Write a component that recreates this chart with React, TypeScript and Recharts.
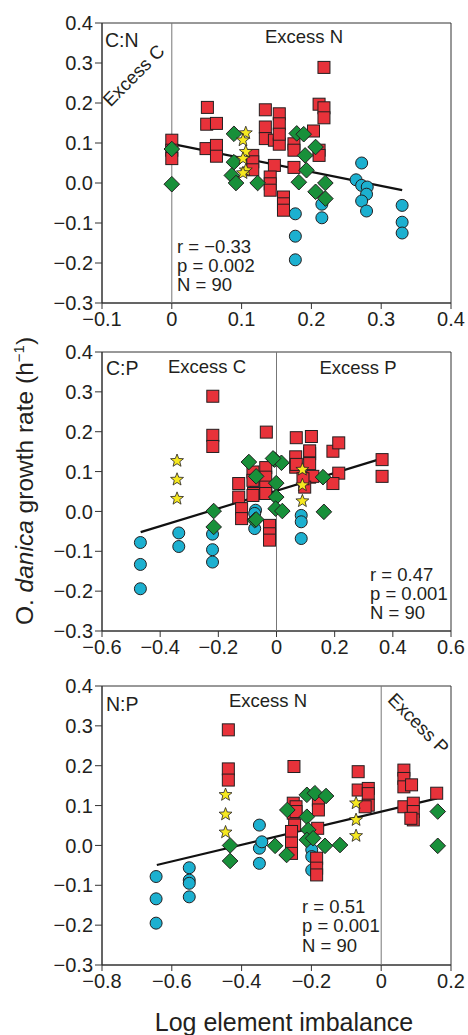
import React from 'react';
import { ScatterChart, Scatter, XAxis, YAxis, ReferenceArea } from 'recharts';

// ---------- DATA ----------
// Panel C:N
const cnSquares = [
  [0, 0.107], [0, 0.082], [0, 0.061],
  [0.051, 0.189], [0.05, 0.147], [0.064, 0.149], [0.049, 0.086], [0.064, 0.094], [0.064, 0.067],
  [0.116, 0.069], [0.116, 0.053], [0.116, 0.033],
  [0.134, 0.183], [0.154, 0.173], [0.154, 0.148], [0.134, 0.14], [0.134, 0.111], [0.147, 0.107], [0.154, 0.097], [0.154, 0.122],
  [0.175, 0.098], [0.175, 0.082], [0.147, 0.044], [0.141, 0.015], [0.141, -0.002], [0.141, -0.018],
  [0.16, -0.035], [0.16, -0.052], [0.16, -0.068], [0.175, 0.039],
  [0.218, 0.289], [0.211, 0.197], [0.218, 0.188], [0.218, 0.163], [0.203, 0.13], [0.211, 0.082], [0.211, 0.069],
];
const cnDiamonds = [
  [0, 0.085], [0, -0.003], [0.089, 0.123], [0.089, 0.052], [0.086, 0.019], [0.092, 0.0], [0.123, 0.0],
  [0.179, 0.124], [0.189, 0.122], [0.191, 0.069], [0.206, 0.09], [0.182, 0.002], [0.193, 0.032],
  [0.22, 0.0], [0.206, -0.022], [0.22, -0.039],
];
const cnCircles = [
  [0.177, -0.077], [0.177, -0.133], [0.177, -0.192], [0.215, -0.053], [0.215, -0.087],
  [0.272, 0.05], [0.264, 0.008], [0.272, -0.006], [0.28, -0.01], [0.279, -0.028], [0.272, -0.045], [0.279, -0.07],
  [0.33, -0.056], [0.33, -0.098], [0.33, -0.125],
];
const cnStars = [[0.106, 0.125], [0.102, 0.107], [0.106, 0.078], [0.102, 0.061], [0.106, 0.032], [0.102, 0.025]];
const cnFit = [[0, 0.098], [0.33, -0.018]];

// Panel C:P
const cpSquares = [
  [-0.219, 0.289], [-0.219, 0.191], [-0.219, 0.163],
  [-0.13, 0.07], [-0.13, 0.036], [-0.12, 0.007], [-0.12, -0.018],
  [-0.081, 0.099], [-0.081, 0.078], [-0.079, 0.045], [-0.081, 0.04],
  [-0.037, 0.11], [-0.037, 0.086], [-0.037, 0.061], [-0.037, 0.045],
  [-0.035, 0.199], [-0.024, -0.035], [-0.024, -0.056], [-0.024, -0.072],
  [0.066, 0.137], [0.066, 0.111], [0.068, 0.185], [0.068, 0.118],
  [0.114, 0.145], [0.114, 0.12], [0.12, 0.188], [0.114, 0.152], [0.114, 0.086], [0.125, 0.088],
  [0.097, 0.061], [0.091, 0.082],
  [0.194, 0.151], [0.214, 0.172], [0.214, 0.096], [0.194, 0.07],
  [0.363, 0.13], [0.363, 0.088],
];
const cpDiamonds = [
  [-0.216, 0.001], [-0.216, -0.039], [-0.095, 0.124], [-0.07, 0.088], [-0.075, -0.022], [-0.07, -0.02],
  [-0.007, 0.13], [0.017, 0.122], [-0.001, 0.071], [-0.001, 0.036], [-0.003, 0.007], [0.02, 0.001],
  [0.16, 0.086], [0.163, -0.001], [-0.012, 0.133],
];
const cpCircles = [
  [-0.22, -0.057], [-0.22, -0.096], [-0.22, -0.127], [-0.336, -0.054], [-0.336, -0.088],
  [-0.468, -0.078], [-0.468, -0.133], [-0.468, -0.194],
  [-0.075, -0.043], [-0.072, 0.003], [-0.075, -0.005], [-0.07, 0.061],
  [0.085, -0.01], [0.085, -0.026], [0.085, -0.068],
];
const cpStars = [[-0.342, 0.127], [-0.342, 0.08], [-0.342, 0.032], [0.089, 0.105], [0.089, 0.066], [0.089, 0.026]];
const cpFit = [[-0.467, -0.052], [0.35, 0.13]];

// Panel N:P
const npSquares = [
  [-0.438, 0.29], [-0.438, 0.192], [-0.438, 0.164],
  [-0.25, 0.198],
  [-0.252, 0.106], [-0.252, 0.081], [-0.248, 0.051], [-0.257, 0.035], [-0.257, 0.006], [-0.257, -0.02],
  [-0.244, 0.097], [-0.244, 0.085],
  [-0.18, 0.114], [-0.18, 0.089], [-0.182, 0.043], [-0.185, -0.032], [-0.185, -0.057], [-0.185, -0.074],
  [-0.066, 0.185], [-0.066, 0.139], [-0.037, 0.143], [-0.037, 0.13], [-0.037, 0.101], [-0.046, 0.097],
  [0.065, 0.189], [0.065, 0.168], [0.065, 0.147], [0.087, 0.152], [0.065, 0.097],
  [0.092, 0.106], [0.092, 0.085], [0.092, 0.064], [0.085, 0.068],
  [0.159, 0.131],
];
const npDiamonds = [
  [-0.433, 0.0], [-0.433, -0.039], [-0.304, -0.001], [-0.271, -0.024], [-0.269, 0.089],
  [-0.213, 0.127], [-0.19, 0.131], [-0.158, 0.124], [-0.213, 0.072], [-0.209, 0.039], [-0.213, 0.014],
  [-0.195, 0.018], [-0.161, -0.001], [-0.118, 0.001], [0.162, 0.085], [0.162, -0.001],
];
const npCircles = [
  [-0.645, -0.078], [-0.645, -0.134], [-0.645, -0.195],
  [-0.55, -0.056], [-0.55, -0.087], [-0.55, -0.095], [-0.55, -0.129],
  [-0.349, 0.051], [-0.349, -0.007], [-0.349, -0.045], [-0.342, 0.009],
  [-0.199, -0.011], [-0.199, -0.028], [-0.199, -0.062],
];
const npStars = [[-0.446, 0.127], [-0.446, 0.078], [-0.446, 0.033], [-0.072, 0.106], [-0.072, 0.064], [-0.072, 0.024]];
const npFit = [[-0.643, -0.049], [0.16, 0.118]];

const yTicks = [-0.3, -0.2, -0.1, 0, 0.1, 0.2, 0.3, 0.4];
const cnXTicks = [-0.1, 0, 0.1, 0.2, 0.3, 0.4];
const cpXTicks = [-0.6, -0.4, -0.2, 0, 0.2, 0.4, 0.6];
const npXTicks = [-0.8, -0.6, -0.4, -0.2, 0, 0.2];
const dividerX = 0;

// ---------- STYLE ----------
const RED = '#e8323a';
const GREEN = '#18903a';
const BLUE = '#1cb0d0';
const YELLOW = '#f6e820';
const OUTLINE = '#231f20';
const FONT = '"Liberation Sans", Arial, Helvetica, sans-serif';

const toPts = (a: number[][]) => a.map(([x, y]) => ({ x, y }));

const SquareShape = (p: any) => (
  <rect x={p.cx - 6} y={p.cy - 6} width={12} height={12} fill={RED} stroke={OUTLINE} strokeWidth={1} />
);
const DiamondShape = (p: any) => (
  <polygon
    points={`${p.cx},${p.cy - 7.8} ${p.cx + 7.8},${p.cy} ${p.cx},${p.cy + 7.8} ${p.cx - 7.8},${p.cy}`}
    fill={GREEN}
    stroke={OUTLINE}
    strokeWidth={1}
  />
);
const CircleShape = (p: any) => (
  <circle cx={p.cx} cy={p.cy} r={6} fill={BLUE} stroke={OUTLINE} strokeWidth={1} />
);
const StarShape = (p: any) => {
  const pts: string[] = [];
  for (let i = 0; i < 10; i++) {
    const r = i % 2 === 0 ? 6.8 : 2.9;
    const a = -Math.PI / 2 + (i * Math.PI) / 5;
    pts.push(`${p.cx + r * Math.cos(a)},${p.cy + r * Math.sin(a)}`);
  }
  return <polygon points={pts.join(' ')} fill={YELLOW} stroke={OUTLINE} strokeWidth={0.8} />;
};
const NoShape = () => <g />;

const fmtX = (v: number) => (Math.abs(v) < 1e-9 ? '0' : v < 0 ? `\u2212${Math.abs(v).toFixed(1)}` : v.toFixed(1));
const fmtY = (v: number) => (Math.abs(v) < 1e-9 ? '0.0' : v < 0 ? `\u2212${Math.abs(v).toFixed(1)}` : v.toFixed(1));

type PanelProps = {
  top: number;
  plotH: number;
  xDomain: [number, number];
  xTicks: number[];
  squares: number[][];
  diamonds: number[][];
  circles: number[][];
  stars: number[][];
  fit: number[][];
};

const Panel = ({ top, plotH, xDomain, xTicks, squares, diamonds, circles, stars, fit }: PanelProps) => {
  const H = plotH + 20 + 40;
  const divider = [
    { x: dividerX, y: 0.4 },
    { x: dividerX, y: -0.3 },
  ];
  return (
    <div style={{ position: 'absolute', left: 0, top, width: 468, height: H }}>
      <ScatterChart width={468} height={H} margin={{ top: 20, right: 17, bottom: 10, left: 42 }}>
        <XAxis
          type="number"
          dataKey="x"
          domain={xDomain}
          ticks={xTicks}
          interval={0}
          allowDataOverflow
          tickFormatter={fmtX}
          tick={{ fontSize: 20, fill: '#231f20' }}
          tickSize={6}
          tickMargin={3}
          height={30}
          axisLine={{ stroke: '#333' }}
          tickLine={{ stroke: '#333' }}
        />
        <YAxis
          type="number"
          dataKey="y"
          domain={[-0.3, 0.4]}
          ticks={yTicks}
          interval={0}
          allowDataOverflow
          tickFormatter={fmtY}
          tick={{ fontSize: 20, fill: '#231f20' }}
          tickSize={7}
          tickMargin={2}
          width={60}
          axisLine={{ stroke: '#333' }}
          tickLine={{ stroke: '#333' }}
        />
        <Scatter data={divider} line={{ stroke: '#777', strokeWidth: 1 }} shape={NoShape} isAnimationActive={false} />
        <Scatter data={toPts(fit)} line={{ stroke: '#111', strokeWidth: 2.2 }} shape={NoShape} isAnimationActive={false} />
        <Scatter data={toPts(circles)} shape={CircleShape} isAnimationActive={false} />
        <Scatter data={toPts(squares)} shape={SquareShape} isAnimationActive={false} />
        <Scatter data={toPts(diamonds)} shape={DiamondShape} isAnimationActive={false} />
        <Scatter data={toPts(stars)} shape={StarShape} isAnimationActive={false} />
        <ReferenceArea
          x1={xDomain[0]}
          x2={xDomain[1]}
          y1={-0.3}
          y2={0.4}
          fill="none"
          fillOpacity={0}
          stroke="#333"
          strokeWidth={1}
          ifOverflow="visible"
        />
      </ScatterChart>
    </div>
  );
};

const T = { fontSize: 18.5, fill: '#231f20' } as const;

export default function App() {
  return (
    <div style={{ position: 'absolute', left: 0, top: 0, width: 468, height: 1035, background: '#fff', fontFamily: FONT }}>
      <Panel top={2.7} plotH={280} xDomain={[-0.1, 0.4]} xTicks={cnXTicks}
        squares={cnSquares} diamonds={cnDiamonds} circles={cnCircles} stars={cnStars} fit={cnFit} />
      <Panel top={331.7} plotH={279} xDomain={[-0.6, 0.6]} xTicks={cpXTicks}
        squares={cpSquares} diamonds={cpDiamonds} circles={cpCircles} stars={cpStars} fit={cpFit} />
      <Panel top={666} plotH={279} xDomain={[-0.8, 0.2]} xTicks={npXTicks}
        squares={npSquares} diamonds={npDiamonds} circles={npCircles} stars={npStars} fit={npFit} />
      <svg width={468} height={1035} style={{ position: 'absolute', left: 0, top: 0, pointerEvents: 'none', fontFamily: FONT }}>
        {/* Panel 1 */}
        <text x={105} y={47} fontSize={19.5} fill="#231f20">C:N</text>
        <text x={0} y={0} transform="translate(138,80) rotate(-45)" textAnchor="middle" {...T}>Excess C</text>
        <text x={304} y={43} textAnchor="middle" {...T}>Excess N</text>
        <text x={177} y={253} {...T}>r = {'\u2212'}0.33</text>
        <text x={177} y={272} {...T}>p = 0.002</text>
        <text x={177} y={291} {...T}>N = 90</text>
        {/* Panel 2 */}
        <text x={106} y={375} fontSize={19.5} fill="#231f20">C:P</text>
        <text x={207} y={373} textAnchor="middle" {...T}>Excess C</text>
        <text x={358} y={374} textAnchor="middle" {...T}>Excess P</text>
        <text x={370} y={581} {...T}>r = 0.47</text>
        <text x={370} y={600} {...T}>p = 0.001</text>
        <text x={370} y={619} {...T}>N = 90</text>
        {/* Panel 3 */}
        <text x={106} y={711} fontSize={19.5} fill="#231f20">N:P</text>
        <text x={268} y={707} textAnchor="middle" {...T}>Excess N</text>
        <text x={0} y={0} transform="translate(414,728) rotate(45)" textAnchor="middle" {...T}>Excess P</text>
        <text x={302} y={913} {...T}>r = 0.51</text>
        <text x={302} y={932} {...T}>p = 0.001</text>
        <text x={302} y={952} {...T}>N = 90</text>
        {/* Axis titles */}
        <text x={284} y={1031} textAnchor="middle" fontSize={25} fill="#231f20">Log element imbalance</text>
        <text x={0} y={0} transform="translate(33,481) rotate(-90)" textAnchor="middle" fontSize={24.5} fill="#231f20">
          O. <tspan fontStyle="italic">danica</tspan> growth rate (h
          <tspan fontSize={15} dy={-9}>{'\u2212'}1</tspan>
          <tspan dy={9}>)</tspan>
        </text>
      </svg>
    </div>
  );
}
